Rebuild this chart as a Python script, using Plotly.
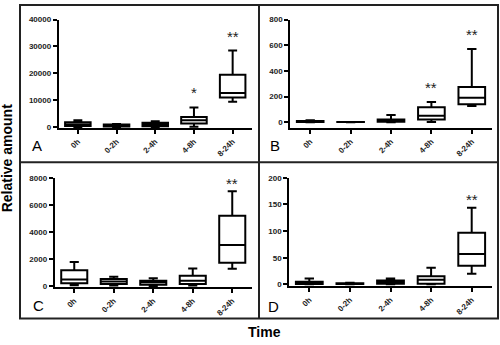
import plotly.graph_objects as go

categories = ["0h", "0-2h", "2-4h", "4-8h", "8-24h"]

# Panel A
a_lower = [50, 50, 50, 150, 9400]
a_q1 = [400, 250, 300, 1350, 11000]
a_median = [1000, 600, 900, 2550, 12700]
a_q3 = [1800, 950, 1600, 3750, 19500]
a_upper = [2550, 1150, 2200, 7300, 28500]
a_stars = ["", "", "", "*", "**"]
a_ticks = [0, 10000, 20000, 30000, 40000]

# Panel B
b_lower = [0, 0, 0, 2, 127]
b_q1 = [1, 0.5, 3, 20, 140]
b_median = [4, 1, 10, 50, 190]
b_q3 = [9, 1.5, 20, 117, 274]
b_upper = [14, 2, 55, 157, 571]
b_stars = ["", "", "", "**", "**"]
b_ticks = [0, 200, 400, 600, 800]

# Panel C
c_lower = [80, 60, 30, 50, 1300]
c_q1 = [220, 170, 110, 170, 1730]
c_median = [500, 360, 290, 410, 3050]
c_q3 = [1180, 530, 410, 770, 5210]
c_upper = [1800, 700, 600, 1320, 7010]
c_stars = ["", "", "", "", "**"]
c_ticks = [0, 2000, 4000, 6000, 8000]

# Panel D
d_lower = [0, 0, 0, 0, 20]
d_q1 = [0.5, 0.5, 1, 1, 35]
d_median = [3, 1, 4.5, 8.5, 57]
d_q3 = [5, 2, 7, 15, 97]
d_upper = [11, 3, 11, 31, 144]
d_stars = ["", "", "", "", "**"]
d_ticks = [0, 50, 100, 150, 200]

W, H = 500, 345
FONT = "Liberation Sans, Arial, sans-serif"

panels = [
    dict(lo=a_lower, q1=a_q1, med=a_median, q3=a_q3, up=a_upper, stars=a_stars, ticks=a_ticks,
         xpx=(58.5, 252), ypx=(127, 16), yr=(-364, 40000), letter="A", lpos=(37, 145), sshift=4),
    dict(lo=b_lower, q1=b_q1, med=b_median, q3=b_q3, up=b_upper, stars=b_stars, ticks=b_ticks,
         xpx=(290, 492), ypx=(127, 16), yr=(-46, 800), letter="B", lpos=(275, 145), sshift=4),
    dict(lo=c_lower, q1=c_q1, med=c_median, q3=c_q3, up=c_upper, stars=c_stars, ticks=c_ticks,
         xpx=(54.5, 252), ypx=(290, 178), yr=(-72, 8000), letter="C", lpos=(38, 309), sshift=-3),
    dict(lo=d_lower, q1=d_q1, med=d_median, q3=d_q3, up=d_upper, stars=d_stars, ticks=d_ticks,
         xpx=(289, 492), ypx=(289, 178), yr=(-3.7, 200), letter="D", lpos=(273, 310), sshift=-2),
]

fig = go.Figure()
layout = dict(
    width=W, height=H, margin=dict(l=0, r=0, t=0, b=0),
    paper_bgcolor="white", plot_bgcolor="white", showlegend=False,
    font=dict(family=FONT, color="black"),
)
annotations = []

for i, p in enumerate(panels, start=1):
    xa = "x" if i == 1 else f"x{i}"
    ya = "y" if i == 1 else f"y{i}"
    fig.add_trace(go.Box(
        x=categories, q1=p["q1"], median=p["med"], q3=p["q3"],
        lowerfence=p["lo"], upperfence=p["up"],
        xaxis=xa, yaxis=ya, width=0.66, whiskerwidth=0.35,
        line=dict(color="black", width=2), fillcolor="white",
        boxpoints=False, hoverinfo="skip",
    ))
    axis_common = dict(showgrid=False, zeroline=False, showline=True, linecolor="black",
                       linewidth=1.5, ticks="outside", tickcolor="black", tickwidth=1.5,
                       ticklen=4,
                       tickfont=dict(family=FONT, size=8, color="#222", weight="bold"))
    layout[f"xaxis{'' if i == 1 else i}"] = dict(
        domain=[p["xpx"][0] / W, p["xpx"][1] / W], anchor=ya,
        type="category", range=[-0.5, 4.5], tickangle=-45, **axis_common)
    layout[f"yaxis{'' if i == 1 else i}"] = dict(
        domain=[1 - p["ypx"][0] / H, 1 - p["ypx"][1] / H], anchor=xa,
        range=list(p["yr"]), tickvals=p["ticks"], tickformat="d", **axis_common)
    for c, u, s in zip(categories, p["up"], p["stars"]):
        if s:
            annotations.append(dict(x=c, y=u, xref=xa, yref=ya, text=s, showarrow=False,
                                    yanchor="bottom", yshift=p["sshift"],
                                    font=dict(family=FONT, size=15, color="#222")))
    annotations.append(dict(x=p["lpos"][0] / W, y=1 - p["lpos"][1] / H, xref="paper", yref="paper",
                            text=p["letter"], showarrow=False, xanchor="center", yanchor="middle",
                            font=dict(family=FONT, size=15, color="black")))

annotations.append(dict(x=7 / W, y=1 - 158 / H, xref="paper", yref="paper", text="<b>Relative amount</b>",
                        showarrow=False, textangle=-90, xanchor="center", yanchor="middle",
                        font=dict(family=FONT, size=14, color="black")))
annotations.append(dict(x=264 / W, y=1 - 336 / H, xref="paper", yref="paper", text="<b>Time</b>",
                        showarrow=False, xanchor="center", yanchor="middle",
                        font=dict(family=FONT, size=14, color="black")))

line_style = dict(color="#222", width=2)
shapes = [
    dict(type="rect", xref="paper", yref="paper", x0=20 / W, x1=498 / W, y0=1 - 322 / H, y1=1 - 1 / H,
         line=line_style),
    dict(type="line", xref="paper", yref="paper", x0=259 / W, x1=259 / W, y0=1 - 322 / H, y1=1 - 1 / H,
         line=line_style),
    dict(type="line", xref="paper", yref="paper", x0=20 / W, x1=498 / W, y0=1 - 162 / H, y1=1 - 162 / H,
         line=line_style),
]
layout["annotations"] = annotations
layout["shapes"] = shapes
fig.update_layout(**layout)
fig.write_html("out.html")
